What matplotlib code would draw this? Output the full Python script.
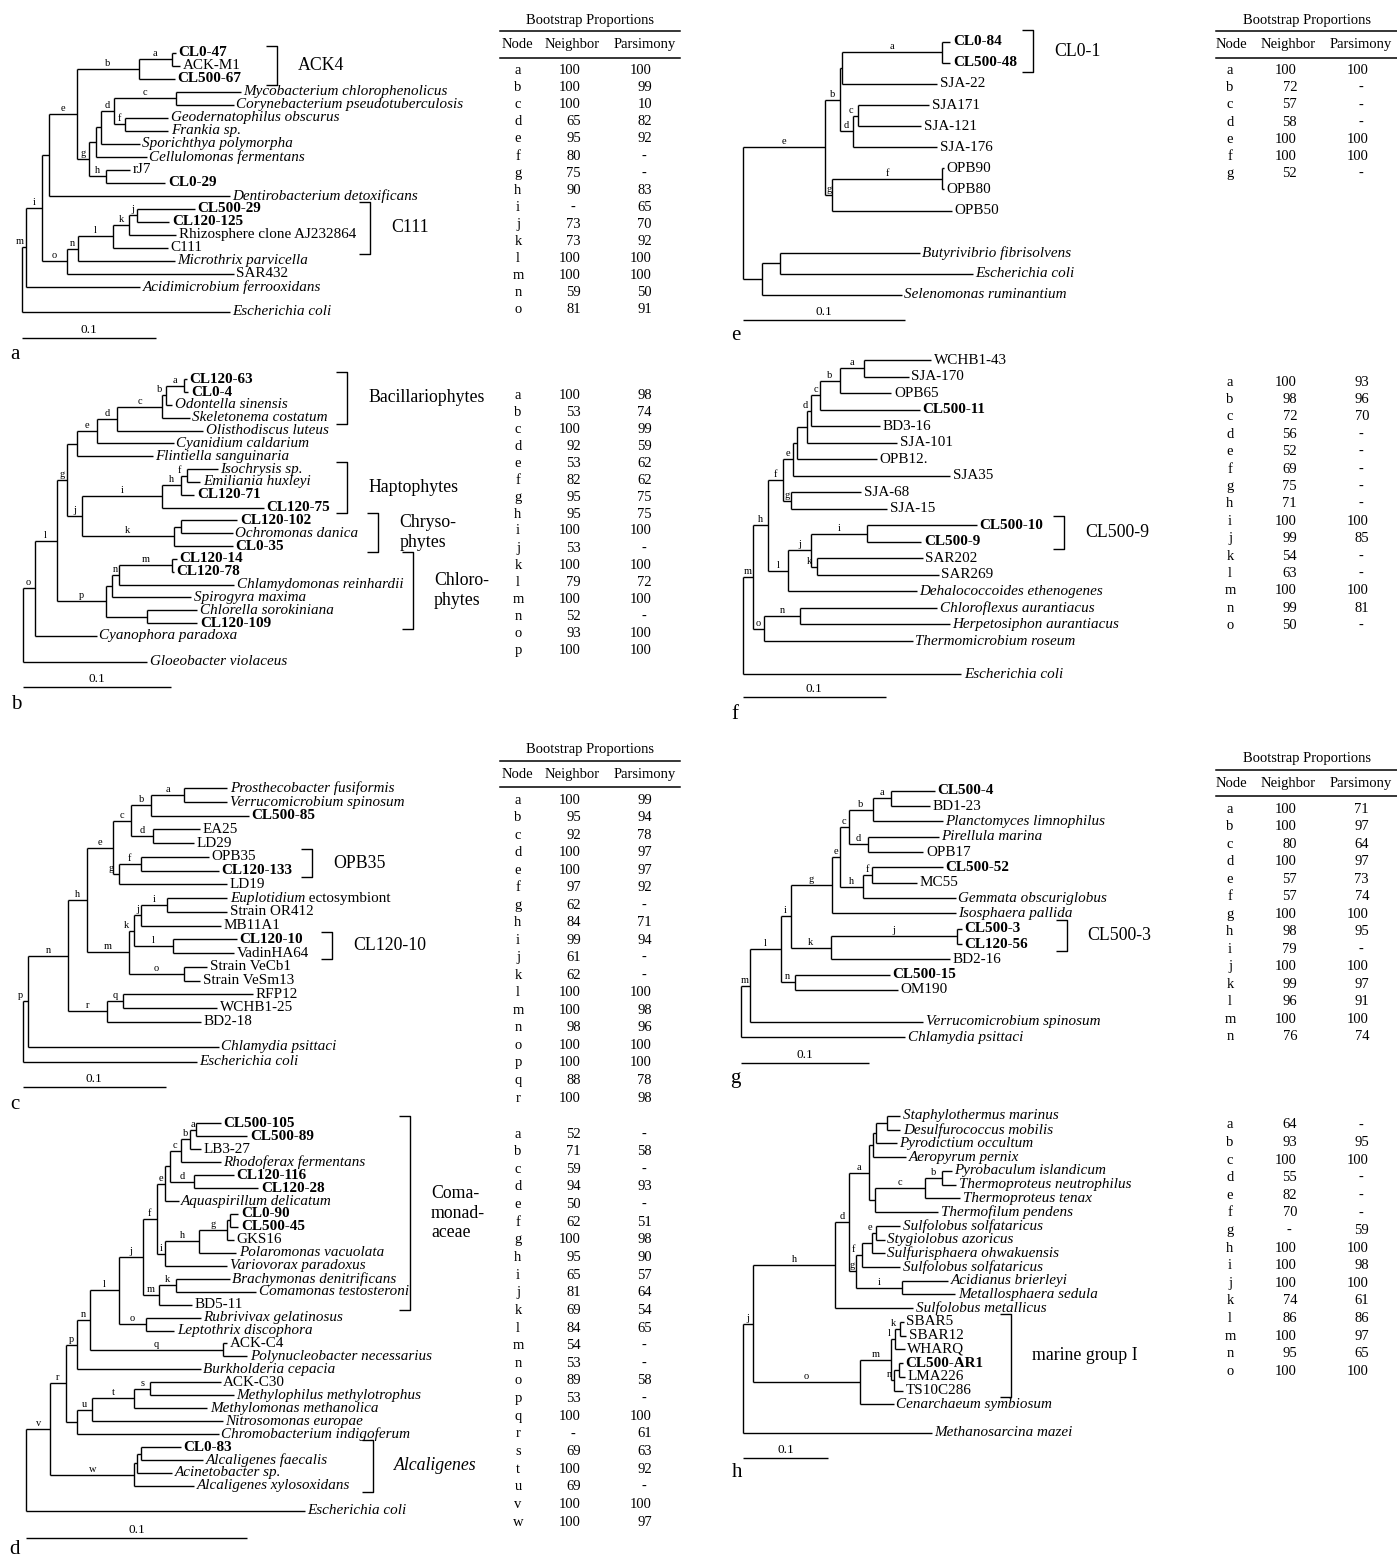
"""
Phylogenetic trees (panels a-h) with bootstrap proportion tables.
"""
import matplotlib
matplotlib.use("Agg")
import matplotlib.pyplot as plt

plt.rcParams["font.family"] = ["Liberation Serif", "DejaVu Serif"]

W, H = 1397, 1559
LEAF_FS = 10.9
NODE_FS = 7.5
TAB_FS = 10.5
CLADE_FS = 12.8
LINE = dict(color="black", lw=1.0, solid_capstyle="butt")


def N(label, dist, *kids):
    return {"label": label, "dist": dist, "kids": list(kids)}


def L(name, dist, style="n", gap=0.0):
    return {"label": None, "name": name, "dist": dist, "style": style, "gap": gap}


# ---- trees: branch depth in substitutions per site (scale bar = 0.1) ----
TREE_A = N(None, 0.0,
    N("m", 0.003,
        N("i", 0.015,
            N(None, 0.020,
                N("e", 0.041,
                    N("b", 0.087,
                        N("a", 0.112, L("CL0-47", 0.115, "b"), L("ACK-M1", 0.118)),
                        L("CL500-67", 0.114, "b")),
                    N("g", 0.050,
                        N(None, 0.055,
                            N(None, 0.059,
                                N("d", 0.069,
                                    N("c", 0.115,
                                        L("Mycobacterium chlorophenolicus", 0.163, "i"),
                                        L("Corynebacterium pseudotuberculosis", 0.158, "i")),
                                    N("f", 0.077,
                                        L("Geodernatophilus obscurus", 0.109, "i"),
                                        L("Frankia sp.", 0.109, "i"))),
                                L("Sporichthya polymorpha", 0.088, "i")),
                            L("Cellulomonas fermentans", 0.093, "i")),
                        N("h", 0.063, L("rJ7", 0.081), L("CL0-29", 0.107, "b")))),
                L("Dentirobacterium detoxificans", 0.155, "i")),
            N("o", 0.034,
                N("n", 0.042,
                    N("l", 0.068,
                        N("k", 0.080,
                            N("j", 0.086, L("CL500-29", 0.129, "b"), L("CL120-125", 0.110, "b")),
                            L("Rhizosphere clone AJ232864", 0.115)),
                        L("C111", 0.109)),
                    L("Microthrix parvicella", 0.114, "i")),
                L("SAR432", 0.158))),
        L("Acidimicrobium ferrooxidans", 0.088, "i")),
    L("Escherichia coli", 0.155, "i", 0.92))

TREE_B = N(None, 0.0,
    N("o", 0.008,
        N("l", 0.023,
            N("g", 0.030,
                N(None, 0.037,
                    N("e", 0.050,
                        N("d", 0.064,
                            N("c", 0.094,
                                N("b", 0.097,
                                    N("a", 0.109, L("CL120-63", 0.111, "b"), L("CL0-4", 0.112, "b")),
                                    L("Odontella sinensis", 0.101, "i")),
                                L("Skeletonema costatum", 0.113, "i")),
                            L("Olisthodiscus luteus", 0.122, "i")),
                        L("Cyanidium caldarium", 0.102, "i")),
                    L("Flintiella sanguinaria", 0.088, "i")),
                N("j", 0.040,
                    N("i", 0.094,
                        N("h", 0.107,
                            N("f", 0.111, L("Isochrysis sp.", 0.132, "i"),
                              L("Emiliania huxleyi", 0.120, "i")),
                            L("CL120-71", 0.116, "b")),
                        L("CL120-75", 0.163, "b")),
                    N("k", 0.102,
                        N(None, 0.107, L("CL120-102", 0.145, "b"), L("Ochromonas danica", 0.142, "i")),
                        L("CL0-35", 0.142, "b")))),
            N("p", 0.056,
                N(None, 0.060,
                    N("n", 0.065,
                        N("m", 0.101, L("CL120-14", 0.104, "b"), L("CL120-78", 0.102, "b")),
                        L("Chlamydomonas reinhardii", 0.143, "i")),
                    L("Spirogyra maxima", 0.114, "i")),
                N(None, 0.084, L("Chlorella sorokiniana", 0.118, "i"), L("CL120-109", 0.118, "b")))),
        L("Cyanophora paradoxa", 0.050, "i")),
    L("Gloeobacter violaceus", 0.084, "i", 1.0))

TREE_C = N(None, 0.0,
    N("p", 0.004,
        N("n", 0.032,
            N("h", 0.045,
                N("e", 0.063,
                    N("c", 0.076,
                        N("b", 0.090,
                            N("a", 0.113, L("Prosthecobacter fusiformis", 0.143, "i"),
                              L("Verrucomicrobium spinosum", 0.143, "i")),
                            L("CL500-85", 0.158, "b")),
                        N("d", 0.091, L("EA25", 0.124), L("LD29", 0.120))),
                    N("g", 0.067,
                        N("f", 0.083, L("OPB35", 0.130), L("CL120-133", 0.137, "b")),
                        L("LD19", 0.143))),
                N("m", 0.074,
                    N("k", 0.078,
                        N("j", 0.083,
                            N("i", 0.101, L("Euplotidium ectosymbiont", 0.143, "mix"),
                              L("Strain OR412", 0.143)),
                            L("MB11A1", 0.139)),
                        N("l", 0.105, L("CL120-10", 0.150, "b"), L("VadinHA64", 0.148))),
                    N("o", 0.113, L("Strain VeCb1", 0.129), L("Strain VeSm13", 0.124)))),
            N("r", 0.059,
                N("q", 0.070, L("RFP12", 0.161), L("WCHB1-25", 0.136)),
                L("BD2-18", 0.125))),
        L("Chlamydia psittaci", 0.137, "i", 0.82)),
    L("Escherichia coli", 0.122, "i", 0.09))

TREE_D = N(None, 0.0,
    N("v", 0.011,
        N("r", 0.018,
            N("p", 0.023,
                N("n", 0.029,
                    N("l", 0.042,
                        N("j", 0.053,
                            N("f", 0.059,
                                N("e", 0.063,
                                    N(None, 0.065,
                                        N("c", 0.070,
                                            N("b", 0.074,
                                                N("a", 0.077, L("CL500-105", 0.088, "b"),
                                                  L("CL500-89", 0.100, "b")),
                                                L("LB3-27", 0.079)),
                                            L("Rhodoferax fermentans", 0.088, "i")),
                                        N("d", 0.076, L("CL120-116", 0.094, "b"), L("CL120-28", 0.105, "b"))),
                                    L("Aquaspirillum delicatum", 0.069, "i")),
                                N("i", 0.063,
                                    N("h", 0.078,
                                        N("g", 0.091,
                                            N(None, 0.092, L("CL0-90", 0.096, "b"), L("CL500-45", 0.096, "b")),
                                            L("GKS16", 0.094)),
                                        L("Polaromonas vacuolata", 0.095, "i")),
                                    L("Variovorax paradoxus", 0.091, "i"))),
                            N("m", 0.060,
                                N("k", 0.068, L("Brachymonas denitrificans", 0.092, "i"),
                                  L("Comamonas testosteroni", 0.104, "i")),
                                L("BD5-11", 0.075))),
                        N("o", 0.054, L("Rubrivivax gelatinosus", 0.079, "i"),
                          L("Leptothrix discophora", 0.067, "i"))),
                    N("q", 0.089, L("ACK-C4", 0.091), L("Polynucleobacter necessarius", 0.100, "i"))),
                L("Burkholderia cepacia", 0.079, "i")),
            N(None, 0.023,
                N("u", 0.030,
                    N("t", 0.049,
                        N("s", 0.056, L("ACK-C30", 0.088), L("Methylophilus methylotrophus", 0.094, "i")),
                        L("Methylomonas methanolica", 0.082, "i")),
                    L("Nitrosomonas europae", 0.089, "i")),
                L("Chromobacterium indigoferum", 0.087, "i"))),
        N("w", 0.049,
            N(None, 0.050,
                N(None, 0.052, L("CL0-83", 0.070, "b"), L("Alcaligenes faecalis", 0.080, "i")),
                L("Acinetobacter sp.", 0.066, "i")),
            L("Alcaligenes xylosoxidans", 0.076, "i"))),
    L("Escherichia coli", 0.126, "i", 0.93))

TREE_E = N(None, 0.0,
    N("e", 0.051,
        N("b", 0.060,
            N(None, 0.061,
                N("a", 0.123, L("CL0-84", 0.128, "b"), L("CL500-48", 0.128, "b")),
                L("SJA-22", 0.120)),
            N("d", 0.068,
                N("c", 0.071, L("SJA171", 0.115), L("SJA-121", 0.110)),
                L("SJA-176", 0.120))),
        N("g", 0.055,
            N("f", 0.123, L("OPB90", 0.124), L("OPB80", 0.124)),
            L("OPB50", 0.129))),
    N(None, 0.012,
        N(None, 0.023, L("Butyrivibrio fibrisolvens", 0.109, "i", 1.0), L("Escherichia coli", 0.142, "i")),
        L("Selenomonas ruminantium", 0.098, "i")))

TREE_F = N(None, 0.0,
    N("m", 0.007,
        N("h", 0.018,
            N("f", 0.028,
                N("e", 0.035,
                    N(None, 0.038,
                        N(None, 0.045,
                            N("d", 0.048,
                                N("c", 0.054,
                                    N("b", 0.068,
                                        N("a", 0.085, L("WCHB1-43", 0.132), L("SJA-170", 0.116)),
                                        L("OPB65", 0.104)),
                                    L("CL500-11", 0.124, "b")),
                                L("BD3-16", 0.096)),
                            L("SJA-101", 0.108)),
                        L("OPB12.", 0.094)),
                    L("SJA35", 0.145)),
                N("g", 0.034, L("SJA-68", 0.083), L("SJA-15", 0.101))),
            N("l", 0.032,
                N("j", 0.048,
                    N("i", 0.087, L("CL500-10", 0.164, "b"), L("CL500-9", 0.125, "b")),
                    N("k", 0.052, L("SAR202", 0.126), L("SAR269", 0.137))),
                L("Dehalococcoides ethenogenes", 0.122, "i"))),
        N("o", 0.015,
            N("n", 0.040, L("Chloroflexus aurantiacus", 0.136, "i"),
              L("Herpetosiphon aurantiacus", 0.145, "i")),
            L("Thermomicrobium roseum", 0.119, "i"))),
    L("Escherichia coli", 0.153, "i", 1.0))

TREE_G = N(None, 0.0,
    N("m", 0.007,
        N("l", 0.031,
            N("i", 0.039,
                N("g", 0.071,
                    N("e", 0.077,
                        N("c", 0.084,
                            N("b", 0.103,
                                N("a", 0.117, L("CL500-4", 0.151, "b"), L("BD1-23", 0.147)),
                                L("Planctomyces limnophilus", 0.157, "i")),
                            N("d", 0.099, L("Pirellula marina", 0.154, "i"), L("OPB17", 0.142))),
                        N("h", 0.095,
                            N("f", 0.102, L("CL500-52", 0.157, "b"), L("MC55", 0.137)),
                            L("Gemmata obscuriglobus", 0.167, "i"))),
                    L("Isosphaera pallida", 0.167, "i")),
                N("k", 0.070,
                    N("j", 0.168, L("CL500-3", 0.172, "b"), L("CL120-56", 0.172, "b")),
                    L("BD2-16", 0.163))),
            N("n", 0.042, L("CL500-15", 0.116, "b"), L("OM190", 0.122))),
        L("Verrucomicrobium spinosum", 0.142, "i", 1.07)),
    L("Chlamydia psittaci", 0.128, "i"))

TREE_H = N(None, 0.0,
    N("j", 0.012,
        N("h", 0.108,
            N("d", 0.124,
                N("a", 0.147,
                    N(None, 0.152,
                        N(None, 0.156,
                            N(None, 0.168, L("Staphylothermus marinus", 0.184, "i"),
                              L("Desulfurococcus mobilis", 0.184, "i")),
                            L("Pyrodictium occultum", 0.180, "i")),
                        L("Aeropyrum pernix", 0.191, "i")),
                    N(None, 0.154,
                        N("c", 0.213,
                            N("b", 0.233, L("Pyrobaculum islandicum", 0.244, "i"),
                              L("Thermoproteus neutrophilus", 0.249, "i")),
                            L("Thermoproteus tenax", 0.254, "i")),
                        L("Thermofilum pendens", 0.228, "i"))),
                N("g", 0.132,
                    N("f", 0.139,
                        N(None, 0.151,
                            N("e", 0.156, L("Sulfolobus solfataricus", 0.184, "i"),
                              L("Stygiolobus azoricus", 0.166, "i")),
                            L("Sulfurisphaera ohwakuensis", 0.166, "i")),
                        L("Sulfolobus solfataricus", 0.184, "i")),
                    N("i", 0.186, L("Acidianus brierleyi", 0.240, "i"),
                      L("Metallosphaera sedula", 0.248, "i")))),
            L("Sulfolobus metallicus", 0.199, "i")),
        N("o", 0.137,
            N("m", 0.173,
                N("l", 0.178,
                    N("k", 0.184, L("SBAR5", 0.188), L("SBAR12", 0.191)),
                    L("WHARQ", 0.189)),
                N("n", 0.177,
                    N(None, 0.182, L("CL500-AR1", 0.187, "b"), L("LMA226", 0.189)),
                    L("TS10C286", 0.187))),
            L("Cenarchaeum symbiosum", 0.176, "i"))),
    L("Methanosarcina mazei", 0.221, "i", 1.07))

# ---- bootstrap tables (None = not supported) ----
NJ_A = [100, 100, 100, 65, 95, 80, 75, 90, None, 73, 73, 100, 100, 59, 81]
MP_A = [100, 99, 10, 82, 92, None, None, 83, 65, 70, 92, 100, 100, 50, 91]
NJ_B = [100, 53, 100, 92, 53, 82, 95, 95, 100, 53, 100, 79, 100, 52, 93, 100]
MP_B = [98, 74, 99, 59, 62, 62, 75, 75, 100, None, 100, 72, 100, None, 100, 100]
NJ_C = [100, 95, 92, 100, 100, 97, 62, 84, 99, 61, 62, 100, 100, 98, 100, 100, 88, 100]
MP_C = [99, 94, 78, 97, 97, 92, None, 71, 94, None, None, 100, 98, 96, 100, 100, 78, 98]
NJ_D = [52, 71, 59, 94, 50, 62, 100, 95, 65, 81, 69, 84, 54, 53, 89, 53, 100, None,
        69, 100, 69, 100, 100]
MP_D = [None, 58, None, 93, None, 51, 98, 90, 57, 64, 54, 65, None, None, 58, None, 100,
        61, 63, 92, None, 100, 97]
NJ_E = [100, 72, 57, 58, 100, 100, 52]
MP_E = [100, None, None, None, 100, 100, None]
NJ_F = [100, 98, 72, 56, 52, 69, 75, 71, 100, 99, 54, 63, 100, 99, 50]
MP_F = [93, 96, 70, None, None, None, None, None, 100, 85, None, None, 100, 81, None]
NJ_G = [100, 100, 80, 100, 57, 57, 100, 98, 79, 100, 99, 96, 100, 76]
MP_G = [71, 97, 64, 97, 73, 74, 100, 95, None, 100, 97, 91, 100, 74]
NJ_H = [64, 93, 100, 55, 82, 70, None, 100, 100, 100, 74, 86, 100, 95, 100]
MP_H = [None, 95, 100, None, None, None, 59, 100, 98, 100, 61, 86, 97, 65, 100]
NODE_LETTERS = "abcdefghijklmnopqrstuvw"

# ---- panel layout (pixels); letter_xy is the letter's baseline ----
PANELS = [
    dict(tree=TREE_A, root_x=21.7, scale=134.3, y0=52.7, sp=13.0, bar_y=337.7,
         letter="a", letter_xy=(15, 359),
         brackets=[("CL0-47", "CL500-67", 276.7, "ACK4", False),
                   ("CL500-29", "C111", 370, "C111", False)]),
    dict(tree=TREE_B, root_x=22.7, scale=148, y0=379.3, sp=12.83, bar_y=687.3,
         letter="b", letter_xy=(16.7, 709),
         brackets=[("CL120-63", "Skeletonema costatum", 347.3, "Bacillariophytes", False),
                   ("Isochrysis sp.", "CL120-75", 347.3, "Haptophytes", False),
                   ("CL120-102", "CL0-35", 378.3, "Chryso-\nphytes", False),
                   ("CL120-14", "CL120-109", 413, "Chloro-\nphytes", False)]),
    dict(tree=TREE_C, root_x=22.7, scale=143, y0=788.3, sp=13.73, bar_y=1086.7,
         letter="c", letter_xy=(15, 1109),
         brackets=[("OPB35", "CL120-133", 312.3, "OPB35", False),
                   ("CL120-10", "VadinHA64", 332.3, "CL120-10", False)]),
    dict(tree=TREE_D, root_x=26, scale=221.3, y0=1123.3, sp=12.95, bar_y=1538.3,
         letter="d", letter_xy=(15, 1554),
         brackets=[("CL500-105", "BD5-11", 410, "Coma-\nmonad-\naceae", False),
                   ("CL0-83", "Alcaligenes xylosoxidans", 373.3, "Alcaligenes", True)]),
    dict(tree=TREE_E, root_x=742.7, scale=162.3, y0=41.7, sp=21.1, bar_y=320,
         letter="e", letter_xy=(736, 340),
         brackets=[("CL0-84", "CL500-48", 1033.3, "CL0-1", False)]),
    dict(tree=TREE_F, root_x=742.7, scale=143, y0=360, sp=16.53, bar_y=696.7,
         letter="f", letter_xy=(735, 719),
         brackets=[("CL500-10", "CL500-9", 1064, "CL500-9", False)]),
    dict(tree=TREE_G, root_x=740.7, scale=128.7, y0=790.7, sp=15.33, bar_y=1063.3,
         letter="g", letter_xy=(735, 1083),
         brackets=[("CL500-3", "CL120-56", 1066.7, "CL500-3", False)]),
    dict(tree=TREE_H, root_x=742.7, scale=85.7, y0=1116, sp=13.73, bar_y=1458.3,
         letter="h", letter_xy=(737, 1477),
         brackets=[("SBAR5", "TS10C286", 1010.7, "marine group I", False)]),
]

LEFT_COLS = dict(node=518, nj=581, mp=652, title=590, hdr=(517, 572, 645), rule=(500, 680))
RIGHT_COLS = dict(node=1230, nj=1297, mp=1369, title=1307, hdr=(1231, 1288, 1361), rule=(1216, 1397))

TABLES = [
    (LEFT_COLS, 70.5, 17.1, NJ_A, MP_A, True),
    (LEFT_COLS, 395, 17.0, NJ_B, MP_B, False),
    (LEFT_COLS, 800, 17.53, NJ_C, MP_C, True),
    (LEFT_COLS, 1134, 17.64, NJ_D, MP_D, False),
    (RIGHT_COLS, 70.5, 17.2, NJ_E, MP_E, True),
    (RIGHT_COLS, 382, 17.4, NJ_F, MP_F, False),
    (RIGHT_COLS, 809, 17.5, NJ_G, MP_G, True),
    (RIGHT_COLS, 1125, 17.6, NJ_H, MP_H, False),
]


def layout(node, state, y0, sp):
    if "kids" not in node:
        state["row"] += node["gap"]
        node["y"] = y0 + state["row"] * sp
        state["row"] += 1
        state["leaves"][node["name"]] = node
        return node["y"]
    ys = [layout(k, state, y0, sp) for k in node["kids"]]
    node["y"] = (ys[0] + ys[-1]) / 2
    return node["y"]


def leaf_text(ax, x, y, name, style):
    kw = dict(fontsize=LEAF_FS, va="center", ha="left")
    if style == "mix":
        first, rest = name.split(" ", 1)
        t = ax.text(x, y, first, fontstyle="italic", **kw)
        ax.annotate(" " + rest, xy=(1, 0), xycoords=t, va="bottom", ha="left",
                    fontsize=LEAF_FS)
    else:
        ax.text(x, y, name, fontstyle="italic" if style == "i" else "normal",
                fontweight="bold" if style == "b" else "normal", **kw)


def draw_tree(ax, p):
    def X(d):
        return p["root_x"] + d / 0.1 * p["scale"]

    state = {"row": 0.0, "leaves": {}}
    layout(p["tree"], state, p["y0"], p["sp"])

    def rec(node):
        x = X(node["dist"])
        if "kids" not in node:
            leaf_text(ax, x + 2.5, node["y"], node["name"], node["style"])
            return
        ys = [k["y"] for k in node["kids"]]
        ax.plot([x, x], [ys[0], ys[-1]], **LINE)
        for k in node["kids"]:
            kx = X(k["dist"])
            ax.plot([x, kx], [k["y"], k["y"]], **LINE)
            if k["label"]:
                lx = (x + kx) / 2 if kx - x > 6 else x - 2
                ax.text(lx, k["y"] - 1, k["label"], fontsize=NODE_FS, ha="center", va="bottom")
            rec(k)

    rec(p["tree"])

    # scale bar
    x0, x1 = X(0.0), X(0.1)
    ax.plot([x0, x1], [p["bar_y"]] * 2, **LINE)
    ax.text((x0 + x1) / 2, p["bar_y"] - 2, "0.1", fontsize=9.5, ha="center", va="bottom")
    ax.text(*p["letter_xy"], p["letter"], fontsize=15, ha="center", va="baseline")

    # clade brackets
    leaves = state["leaves"]
    for first, last, bx, text, ital in p["brackets"]:
        ya = leaves[first]["y"] - 0.55 * p["sp"]
        yb = leaves[last]["y"] + 0.45 * p["sp"]
        ax.plot([bx - 11, bx, bx, bx - 11], [ya, ya, yb, yb], **LINE)
        ax.text(bx + 21, (ya + yb) / 2, text, fontsize=CLADE_FS, ha="left", va="center",
                fontstyle="italic" if ital else "normal", linespacing=1.2)


def draw_table(ax, cols, y_first, sp, njs, mps, header):
    if header:
        ax.text(cols["title"], y_first - 50.5, "Bootstrap Proportions", fontsize=TAB_FS,
                ha="center", va="center")
        ax.plot(cols["rule"], [y_first - 39.5] * 2, color="black", lw=1.1)
        for hx, ht in zip(cols["hdr"], ("Node", "Neighbor", "Parsimony")):
            ax.text(hx, y_first - 26, ht, fontsize=TAB_FS, ha="center", va="center")
        ax.plot(cols["rule"], [y_first - 13] * 2, color="black", lw=1.1)
    for i, (nj, mp) in enumerate(zip(njs, mps)):
        y = y_first + i * sp
        ax.text(cols["node"], y, NODE_LETTERS[i], fontsize=TAB_FS, ha="center", va="center")
        for xr, v in ((cols["nj"], nj), (cols["mp"], mp)):
            if v is None:
                ax.text(xr - 8, y, "-", fontsize=TAB_FS, ha="center", va="center")
            else:
                ax.text(xr, y, str(v), fontsize=TAB_FS, ha="right", va="center")


fig = plt.figure(figsize=(W / 100, H / 100), dpi=100)
ax = fig.add_axes([0, 0, 1, 1])
ax.set_xlim(0, W)
ax.set_ylim(H, 0)
ax.axis("off")

for panel in PANELS:
    draw_tree(ax, panel)
for cols, y_first, sp, njs, mps, header in TABLES:
    draw_table(ax, cols, y_first, sp, njs, mps, header)

fig.savefig("out.png", dpi=100, facecolor="white")
